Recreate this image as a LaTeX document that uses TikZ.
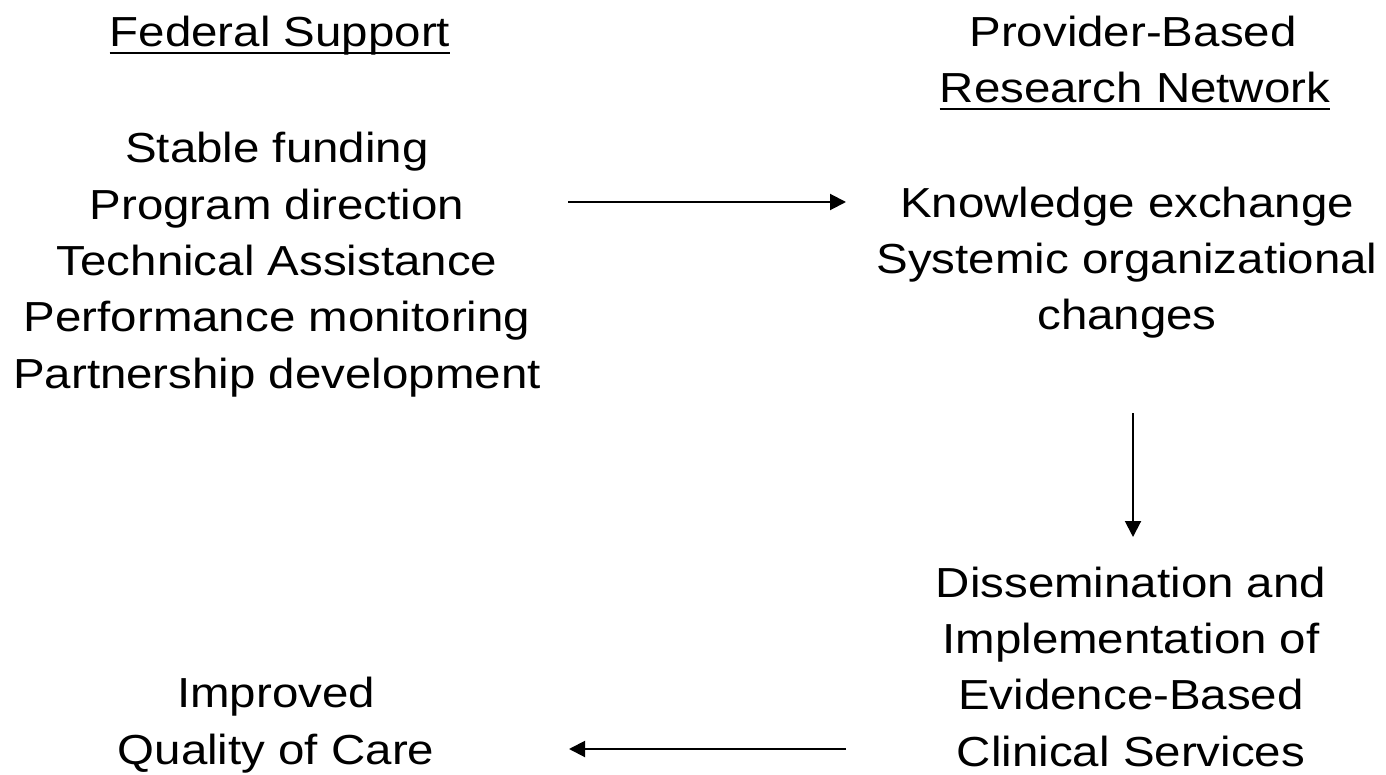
\documentclass[tikz,border=0pt]{standalone}
\usepackage{fontspec}
\setmainfont{Liberation Sans}[FakeStretch=1.13]
\usetikzlibrary{arrows.meta,calc}
\begin{document}
\begin{tikzpicture}[x=1pt,y=-1pt,
  txt/.style={inner sep=0pt, font=\fontsize{42}{56.3}\selectfont, align=center, anchor=base},
  conn/.style={line width=2pt, -{Triangle[length=16pt,width=16pt]}},
  uline/.style={line width=2pt}]
\useasboundingbox (0,0) rectangle (1386,775);
\node[txt] (fed) at (280,47) {Federal Support};
\node[txt] (prov) at (1133,47) {Provider-Based};
\node[txt] (rn) at (1135,103) {Research Network};
\node[txt] (left) at (277,388) {Stable funding\\Program direction\\Technical Assistance\\Performance monitoring\\Partnership development};
\node[txt] (know) at (1127,330) {Knowledge exchange\\Systemic organizational\\changes};
\node[txt] (diss) at (1131,766) {Dissemination and\\Implementation of\\Evidence-Based\\Clinical Services};
\node[txt] (qual) at (276,764) {Improved\\Quality of Care};
\draw[uline] ($(fed.base west)+(0,6.5)$) -- ($(fed.base east)+(0,6.5)$);
\draw[uline] ($(rn.base west)+(0,6.5)$) -- ($(rn.base east)+(0,6.5)$);
\coordinate (a1s) at (568,202);
\coordinate (a1e) at (846,202);
\coordinate (a2s) at (1133,413);
\coordinate (a2e) at (1133,537);
\coordinate (a3s) at (846,749);
\coordinate (a3e) at (569,749);
\draw[conn] (a1s) -- (a1e);
\draw[conn] (a2s) -- (a2e);
\draw[conn] (a3s) -- (a3e);
\end{tikzpicture}
\end{document}
